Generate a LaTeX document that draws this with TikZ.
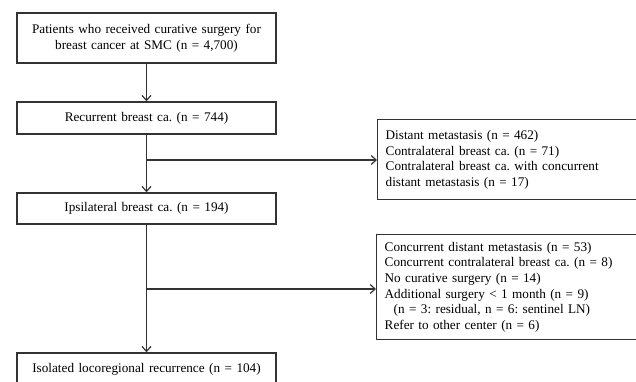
\documentclass[tikz,border=0pt]{standalone}
\usepackage{fontspec}
\setmainfont[WordSpace={1.35,1,1}]{Liberation Serif}
\usetikzlibrary{arrows.meta}
\tikzset{
  box/.style={draw=black!80, line width=1.4pt, inner sep=0pt, font=\fontsize{13.2}{15.6}\selectfont\frenchspacing},
  mainbox/.style={box, minimum width=259pt, align=center},
  sidebox/.style={box, anchor=north west, minimum width=283pt, text width=267pt, inner xsep=8pt, align=left},
  arr/.style={draw=black!80, line width=1.5pt, -{Straight Barb[length=5pt,width=9pt,line width=1.2pt]}},
}
\begin{document}
\begin{tikzpicture}[x=1pt,y=-1pt]
\useasboundingbox (0,0) rectangle (636,381);
\clip (0,0) rectangle (636,381);
\node[mainbox, minimum height=50pt] (b1) at (146.5,38) {Patients who received curative surgery for\\breast cancer at SMC (n = 4,700)};
\node[mainbox, minimum height=32pt] (b2) at (146.5,118) {Recurrent breast ca. (n = 744)};
\node[mainbox, minimum height=31pt] (b3) at (146.5,208.5) {Ipsilateral breast ca. (n = 194)};
\node[mainbox, minimum height=32pt] (b4) at (146.5,369) {Isolated locoregional recurrence (n = 104)};
\node[sidebox, minimum height=80pt] (r1) at (377,119) {Distant metastasis (n = 462)\\Contralateral breast ca. (n = 71)\\Contralateral breast ca. with concurrent\\distant metastasis (n = 17)};
\node[sidebox, minimum height=105pt] (r2) at (376,234) {Concurrent distant metastasis (n = 53)\\Concurrent contralateral breast ca. (n = 8)\\No curative surgery (n = 14)\\Additional surgery {<} 1 month (n = 9)\\\hspace*{9pt}(n = 3: residual, n = 6: sentinel LN)\\Refer to other center (n = 6)};
\coordinate (j1) at (147,160);
\coordinate (j2) at (147,289);
\draw[arr] (b1) -- (b2);
\draw[arr] (b2) -- (b3);
\draw[arr] (b3) -- (b4);
\draw[arr] (j1) -- (j1 -| r1.west);
\draw[arr] (j2) -- (j2 -| r2.west);
\end{tikzpicture}
\end{document}
